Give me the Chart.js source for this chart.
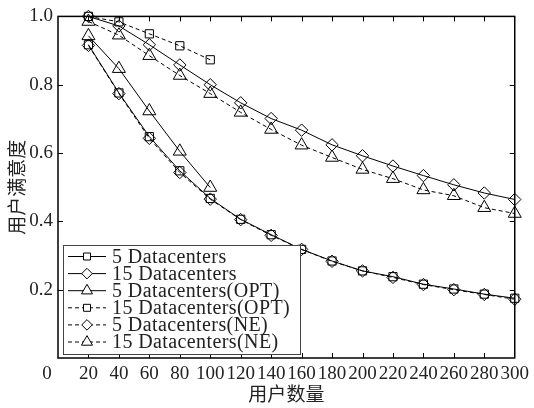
<!DOCTYPE html>
<html><head><meta charset="utf-8">
<script src="https://cdn.jsdelivr.net/npm/chart.js@4"></script>
<style>html,body{margin:0;padding:0;background:#fff}#wrap{width:534px;height:408px}</style>
</head><body><div id="wrap"><canvas id="c" width="534" height="408"></canvas></div>
<script>
// ---- data ----
const users    = [20,40,60,80,100,120,140,160,180,200,220,240,260,280,300];
const usersOpt = [20,40,60,80,100];
const dc5      = [0.917,0.776,0.648,0.548,0.467,0.406,0.361,0.318,0.284,0.255,0.238,0.216,0.202,0.187,0.175];
const dc15     = [1.000,0.972,0.917,0.858,0.800,0.747,0.701,0.667,0.624,0.592,0.562,0.534,0.507,0.483,0.464];
const dc5Opt   = [0.943,0.847,0.723,0.605,0.499];
const dc15Opt  = [1.000,0.984,0.949,0.914,0.873];
const dc5Ne    = [0.915,0.774,0.643,0.543,0.465,0.405,0.359,0.318,0.283,0.255,0.236,0.215,0.200,0.186,0.172];
const dc15Ne   = [0.985,0.945,0.885,0.827,0.774,0.719,0.669,0.623,0.587,0.552,0.525,0.492,0.475,0.440,0.423];
const xTicks   = [0,20,40,60,80,100,120,140,160,180,200,220,240,260,280,300];
const yTicks   = [0.2,0.4,0.6,0.8,1.0];
const seriesNames = ['5 Datacenters','15 Datacenters','5 Datacenters(OPT)','15 Datacenters(OPT)','5 Datacenters(NE)','15 Datacenters(NE)'];
const xTitle = '用户数量';
const yTitle = '用户满意度';

const SERIF = '"Liberation Serif", "Times New Roman", serif';
const CJK = '"Noto Sans CJK SC", sans-serif';
const pts = (xs, ys) => xs.map((x, i) => ({x, y: ys[i]}));

const styles = [
  {style:'rect', r:5.8, dash:[]},
  {style:'rectRot', r:6.2, dash:[]},
  {style:'triangle', r:7.5, dash:[]},
  {style:'rect', r:5.8, dash:[4,3]},
  {style:'rectRot', r:6.2, dash:[4,3]},
  {style:'triangle', r:7.5, dash:[4,3]},
];
const values = [pts(users,dc5), pts(users,dc15), pts(usersOpt,dc5Opt), pts(usersOpt,dc15Opt), pts(users,dc5Ne), pts(users,dc15Ne)];

const datasets = values.map((d, i) => ({
  label: seriesNames[i],
  data: d,
  borderColor: '#000',
  backgroundColor: 'rgba(0,0,0,0)',
  borderWidth: 1,
  borderDash: styles[i].dash,
  pointStyle: styles[i].style,
  pointRadius: styles[i].r,
  pointBorderWidth: 1,
  pointBorderColor: '#000',
  pointBackgroundColor: 'rgba(0,0,0,0)',
  tension: 0,
  clip: 12
}));

const framePlugin = {
  id: 'frame',
  afterDraw(chart) {
    const ctx = chart.ctx, a = chart.chartArea;
    const xs = chart.scales.x, ys = chart.scales.y;
    ctx.save();
    ctx.strokeStyle = '#000';
    ctx.lineWidth = 1.5;
    ctx.strokeRect(a.left, a.top, a.right - a.left, a.bottom - a.top);
    ctx.lineWidth = 1;
    const tl = 5;
    ctx.beginPath();
    xTicks.forEach(v => {
      if (v === 0 || v === 300) return;
      const px = Math.round(xs.getPixelForValue(v)) + 0.5;
      ctx.moveTo(px, a.bottom); ctx.lineTo(px, a.bottom - tl);
      ctx.moveTo(px, a.top); ctx.lineTo(px, a.top + tl);
    });
    yTicks.forEach(v => {
      if (v === 1.0) return;
      const py = Math.round(ys.getPixelForValue(v)) + 0.5;
      ctx.moveTo(a.left, py); ctx.lineTo(a.left + tl, py);
      ctx.moveTo(a.right, py); ctx.lineTo(a.right - tl, py);
    });
    ctx.stroke();
    // origin label
    ctx.fillStyle = '#222';
    ctx.font = '19px ' + SERIF;
    ctx.textAlign = 'center';
    ctx.textBaseline = 'middle';
    ctx.fillText('0', xs.getPixelForValue(0) - 11, 374);

    // legend
    const lx = 63, ly = 245, lw = 237, lh = 109;
    ctx.fillStyle = '#fff';
    ctx.fillRect(lx, ly, lw, lh);
    ctx.strokeStyle = '#444';
    ctx.lineWidth = 1;
    ctx.strokeRect(lx + 0.5, ly + 0.5, lw, lh);
    ctx.font = '20px ' + SERIF;
    if ('letterSpacing' in ctx) ctx.letterSpacing = '0.4px';
    ctx.textAlign = 'left';
    ctx.textBaseline = 'middle';
    datasets.forEach((ds, i) => {
      const cy = 256.5 + i * 17.1;
      ctx.strokeStyle = '#000';
      ctx.lineWidth = 1;
      ctx.setLineDash(styles[i].dash);
      ctx.beginPath();
      ctx.moveTo(68, cy); ctx.lineTo(106, cy);
      ctx.stroke();
      ctx.setLineDash([]);
      ctx.fillStyle = '#fff';
      Chart.helpers.drawPoint(ctx, {pointStyle: styles[i].style, radius: styles[i].r * 0.85, borderWidth: 1}, 87, cy);
      ctx.fillStyle = '#222';
      ctx.fillText(seriesNames[i], 112, cy + 1);
    });
    ctx.restore();
  }
};

new Chart(document.getElementById('c'), {
  type: 'line',
  data: { datasets },
  options: {
    responsive: false,
    devicePixelRatio: 1,
    animation: false,
    layout: { padding: { left: 0, right: 14, top: 12, bottom: 0 } },
    plugins: { legend: { display: false }, tooltip: { enabled: false } },
    scales: {
      x: {
        type: 'linear', min: 0, max: 300,
        afterFit: s => { s.height = 50; },
        afterBuildTicks: s => { s.ticks = xTicks.map(v => ({value: v})); },
        grid: { display: false, drawTicks: false },
        border: { display: false },
        ticks: { color: '#222', font: { family: SERIF, size: 19 }, padding: 5, maxRotation: 0, autoSkip: false,
                 callback: v => v === 0 ? '' : String(v) },
        title: { display: true, text: xTitle, color: '#222', font: { family: CJK, size: 19 }, padding: { top: 0, bottom: 3 } }
      },
      y: {
        type: 'linear', min: 0, max: 1,
        afterFit: s => { s.width = 58; },
        afterBuildTicks: s => { s.ticks = [0].concat(yTicks).map(v => ({value: v})); },
        grid: { display: false, drawTicks: false },
        border: { display: false },
        ticks: { color: '#222', font: { family: SERIF, size: 19 }, padding: 5, autoSkip: false,
                 callback: v => v === 0 ? '' : v.toFixed(1) },
        title: { display: true, text: yTitle, color: '#222', font: { family: CJK, size: 19 }, padding: { top: 5, bottom: 0 } }
      }
    }
  },
  plugins: [framePlugin]
});
</script>
</body></html>
